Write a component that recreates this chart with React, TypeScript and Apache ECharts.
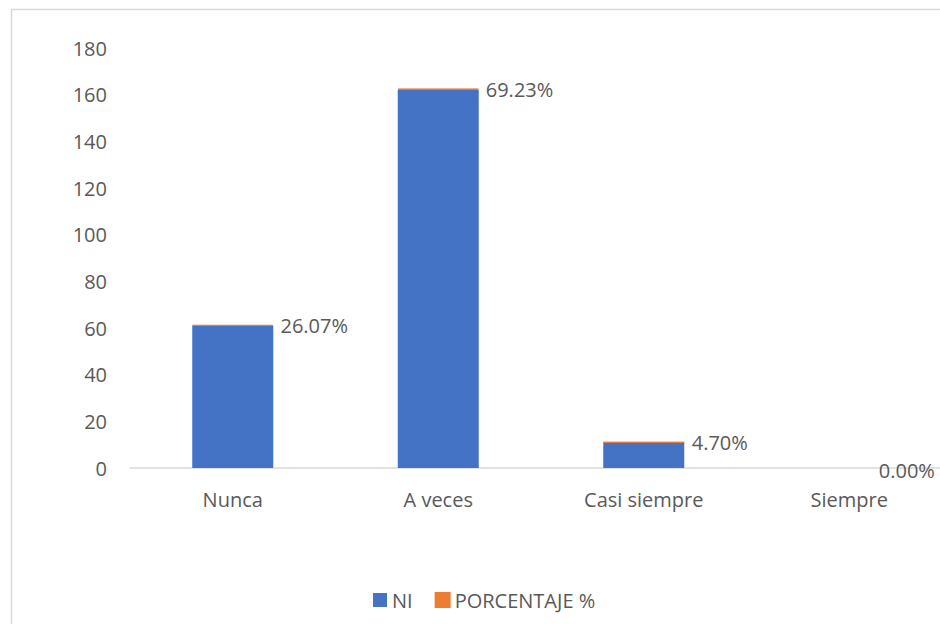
import React, { useEffect, useRef } from "react";
import * as echarts from "echarts";

const categories = ["Nunca", "A veces", "Casi siempre", "Siempre"];
const niValues = [61, 162, 11, 0];
const pctValues = [0.2607, 0.6923, 0.047, 0];
const seriesNames = ["NI", "PORCENTAJE %"];
const yTicks = { min: 0, max: 180, interval: 20 };

const FONT = "'Open Sans', sans-serif";
const TEXT = "#595959";

export default function App() {
  const ref = useRef<HTMLDivElement>(null);
  useEffect(() => {
    if (!ref.current) return;
    const chart = echarts.init(ref.current, null, { renderer: "svg" });
    const pctData = pctValues.map((v, i) => {
      const item: any = { value: v };
      if (v === 0) item.itemStyle = { borderWidth: 0 };
      if (i === pctValues.length - 1) item.label = { offset: [-18, 2] };
      return item;
    });
    chart.setOption({
      animation: false,
      backgroundColor: "#ffffff",
      textStyle: { fontFamily: FONT },
      graphic: [
        {
          type: "rect",
          shape: { x: 11.5, y: 9.5, width: 1000, height: 700 },
          style: { fill: "none", stroke: "#d9d9d9", lineWidth: 1.5 },
          silent: true,
        },
      ],
      legend: {
        data: seriesNames,
        left: 368,
        top: 585,
        itemWidth: 14,
        itemHeight: 14,
        itemGap: 22,
        icon: "rect",
        textStyle: { color: TEXT, fontSize: 20, fontFamily: FONT },
      },
      grid: { left: 130, top: 48, width: 822, height: 420, containLabel: false },
      xAxis: {
        type: "category",
        data: categories,
        axisLine: { lineStyle: { color: "#d9d9d9", width: 1.5 } },
        axisTick: { show: false },
        axisLabel: { color: TEXT, fontSize: 20, fontFamily: FONT, margin: 21 },
      },
      yAxis: {
        type: "value",
        min: yTicks.min,
        max: yTicks.max,
        interval: yTicks.interval,
        splitLine: { show: false },
        axisLine: { show: false },
        axisTick: { show: false },
        axisLabel: { color: TEXT, fontSize: 20, fontFamily: FONT, margin: 23 },
      },
      series: [
        {
          name: seriesNames[0],
          type: "bar",
          stack: "total",
          barWidth: 81,
          data: niValues,
          itemStyle: { color: "#4472C4" },
        },
        {
          name: seriesNames[1],
          type: "bar",
          stack: "total",
          barWidth: 81,
          data: pctData,
          itemStyle: { color: "#ED7D31", borderColor: "#ED7D31", borderWidth: 1 },
          label: {
            show: true,
            position: "right",
            distance: 7,
            color: TEXT,
            fontSize: 20,
            fontFamily: FONT,
            formatter: (p: any) => (p.value * 100).toFixed(2) + "%",
          },
        },
      ],
    });
    return () => chart.dispose();
  }, []);
  return (
    <div
      ref={ref}
      style={{ position: "fixed", left: 0, top: 0, width: 960, height: 624 }}
    />
  );
}
